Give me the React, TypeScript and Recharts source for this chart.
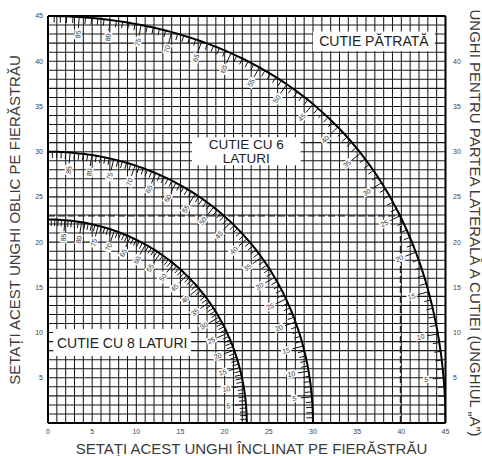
import React from 'react';
import {
  ComposedChart,
  Scatter,
  XAxis,
  YAxis,
  CartesianGrid,
  ReferenceArea,
  ReferenceLine,
} from 'recharts';

// Side angle "A" of the box, one mark per degree
const ANGLES = [
  0, 1, 2, 3, 4, 5, 6, 7, 8, 9, 10, 11, 12, 13, 14, 15, 16, 17, 18, 19,
  20, 21, 22, 23, 24, 25, 26, 27, 28, 29, 30, 31, 32, 33, 34, 35, 36, 37, 38, 39,
  40, 41, 42, 43, 44, 45, 46, 47, 48, 49, 50, 51, 52, 53, 54, 55, 56, 57, 58, 59,
  60, 61, 62, 63, 64, 65, 66, 67, 68, 69, 70, 71, 72, 73, 74, 75, 76, 77, 78, 79,
  80, 81, 82, 83, 84, 85, 86, 87, 88, 89, 90,
];

// Square box (4 sides): bevel (x) and miter (y) for each angle
const SQUARE_BEVEL = [
  45, 44.99, 44.97, 44.92, 44.86, 44.78, 44.69, 44.58, 44.45, 44.3,
  44.14, 43.96, 43.76, 43.55, 43.32, 43.08, 42.82, 42.55, 42.26, 41.96,
  41.64, 41.31, 40.97, 40.61, 40.24, 39.86, 39.46, 39.05, 38.64, 38.2,
  37.76, 37.31, 36.85, 36.37, 35.89, 35.4, 34.89, 34.38, 33.86, 33.34,
  32.8, 32.25, 31.7, 31.14, 30.58, 30.0, 29.42, 28.83, 28.24, 27.64,
  27.03, 26.42, 25.81, 25.19, 24.56, 23.93, 23.29, 22.65, 22.01, 21.36,
  20.71, 20.05, 19.39, 18.73, 18.06, 17.39, 16.72, 16.04, 15.36, 14.68,
  14.0, 13.31, 12.62, 11.93, 11.24, 10.54, 9.85, 9.15, 8.45, 7.75,
  7.05, 6.35, 5.65, 4.94, 4.24, 3.53, 2.83, 2.12, 1.41, 0.71, 0,
];
const SQUARE_MITER = [
  0, 1.0, 2.0, 2.99, 3.99, 4.98, 5.97, 6.95, 7.92, 8.89,
  9.85, 10.8, 11.75, 12.68, 13.6, 14.51, 15.42, 16.3, 17.18, 18.04,
  18.88, 19.71, 20.53, 21.34, 22.13, 22.91, 23.67, 24.42, 25.15, 25.86,
  26.56, 27.25, 27.92, 28.57, 29.21, 29.84, 30.44, 31.04, 31.62, 32.18,
  32.73, 33.26, 33.79, 34.29, 34.78, 35.26, 35.73, 36.18, 36.61, 37.04,
  37.45, 37.85, 38.24, 38.61, 38.97, 39.32, 39.66, 39.99, 40.3, 40.6,
  40.89, 41.17, 41.44, 41.7, 41.95, 42.18, 42.41, 42.63, 42.83, 43.03,
  43.22, 43.39, 43.56, 43.72, 43.87, 44.01, 44.13, 44.25, 44.36, 44.46,
  44.56, 44.64, 44.72, 44.78, 44.84, 44.89, 44.93, 44.96, 44.98, 45.0, 45,
];

// Six-sided box
const HEX_BEVEL = [
  30, 29.99, 29.98, 29.95, 29.92, 29.87, 29.82, 29.75, 29.68, 29.59,
  29.5, 29.4, 29.28, 29.16, 29.02, 28.88, 28.73, 28.57, 28.4, 28.21,
  28.02, 27.83, 27.62, 27.4, 27.18, 26.95, 26.71, 26.46, 26.2, 25.93,
  25.66, 25.38, 25.09, 24.79, 24.49, 24.18, 23.86, 23.54, 23.2, 22.87,
  22.52, 22.17, 21.81, 21.45, 21.08, 20.71, 20.32, 19.94, 19.55, 19.15,
  18.75, 18.34, 17.93, 17.51, 17.09, 16.67, 16.24, 15.8, 15.37, 14.92,
  14.48, 14.03, 13.58, 13.12, 12.66, 12.2, 11.73, 11.27, 10.8, 10.32,
  9.85, 9.37, 8.89, 8.41, 7.92, 7.44, 6.95, 6.46, 5.97, 5.47,
  4.98, 4.49, 3.99, 3.49, 3.0, 2.5, 2.0, 1.5, 1.0, 0.5, 0,
];
const HEX_MITER = [
  0, 0.58, 1.15, 1.73, 2.31, 2.88, 3.45, 4.02, 4.59, 5.16,
  5.73, 6.29, 6.85, 7.4, 7.95, 8.5, 9.04, 9.58, 10.12, 10.64,
  11.17, 11.69, 12.2, 12.71, 13.21, 13.71, 14.2, 14.69, 15.16, 15.64,
  16.1, 16.56, 17.01, 17.45, 17.89, 18.32, 18.74, 19.16, 19.57, 19.97,
  20.36, 20.74, 21.12, 21.49, 21.85, 22.21, 22.55, 22.89, 23.22, 23.54,
  23.86, 24.16, 24.46, 24.75, 25.04, 25.31, 25.58, 25.84, 26.09, 26.33,
  26.56, 26.79, 27.01, 27.22, 27.42, 27.62, 27.81, 27.99, 28.16, 28.32,
  28.48, 28.63, 28.77, 28.9, 29.03, 29.15, 29.26, 29.36, 29.45, 29.54,
  29.62, 29.69, 29.76, 29.81, 29.86, 29.9, 29.94, 29.97, 29.98, 30.0, 30,
];

// Eight-sided box
const OCT_BEVEL = [
  22.5, 22.5, 22.49, 22.47, 22.44, 22.41, 22.37, 22.32, 22.27, 22.21,
  22.14, 22.06, 21.98, 21.89, 21.8, 21.69, 21.58, 21.47, 21.34, 21.21,
  21.08, 20.93, 20.78, 20.63, 20.46, 20.29, 20.12, 19.94, 19.75, 19.56,
  19.36, 19.15, 18.94, 18.72, 18.5, 18.27, 18.04, 17.8, 17.55, 17.3,
  17.05, 16.79, 16.52, 16.25, 15.98, 15.7, 15.42, 15.13, 14.84, 14.54,
  14.24, 13.94, 13.63, 13.32, 13.0, 12.68, 12.36, 12.03, 11.7, 11.37,
  11.03, 10.69, 10.35, 10.0, 9.66, 9.31, 8.95, 8.6, 8.24, 7.88,
  7.52, 7.16, 6.79, 6.42, 6.05, 5.68, 5.31, 4.94, 4.56, 4.19,
  3.81, 3.43, 3.05, 2.67, 2.29, 1.91, 1.53, 1.15, 0.77, 0.38, 0,
];
const OCT_MITER = [
  0, 0.41, 0.83, 1.24, 1.66, 2.07, 2.48, 2.89, 3.3, 3.71,
  4.11, 4.52, 4.92, 5.32, 5.72, 6.12, 6.51, 6.9, 7.29, 7.68,
  8.06, 8.44, 8.82, 9.19, 9.56, 9.93, 10.29, 10.65, 11.0, 11.35,
  11.7, 12.04, 12.38, 12.71, 13.04, 13.36, 13.68, 14.0, 14.31, 14.61,
  14.91, 15.2, 15.49, 15.77, 16.05, 16.32, 16.59, 16.85, 17.11, 17.36,
  17.6, 17.84, 18.08, 18.3, 18.52, 18.74, 18.95, 19.16, 19.35, 19.55,
  19.73, 19.91, 20.09, 20.26, 20.42, 20.57, 20.73, 20.87, 21.01, 21.14,
  21.27, 21.39, 21.5, 21.61, 21.71, 21.81, 21.9, 21.98, 22.06, 22.13,
  22.19, 22.25, 22.3, 22.35, 22.39, 22.42, 22.45, 22.47, 22.49, 22.5, 22.5,
];

const AXIS_TICKS = [0, 5, 10, 15, 20, 25, 30, 35, 40, 45];
const LEFT_TICKS = [5, 10, 15, 20, 25, 30, 35, 40, 45];
const RIGHT_TICKS = [5, 10, 15, 20, 25, 30, 35, 40];
const GRID_VALUES = [
  0, 1, 2, 3, 4, 5, 6, 7, 8, 9, 10, 11, 12, 13, 14, 15, 16, 17, 18, 19, 20, 21, 22,
  23, 24, 25, 26, 27, 28, 29, 30, 31, 32, 33, 34, 35, 36, 37, 38, 39, 40, 41, 42, 43, 44, 45,
];

// Worked example (dashed lines)
const EXAMPLE_BEVEL = 39.9;
const EXAMPLE_MITER = 22.9;

// Label boxes
const BOX_SQUARE = { x1: 30, x2: 43.8, y1: 41.1, y2: 43.3, lines: ['CUTIE PĂTRATĂ'] };
const BOX_HEX = { x1: 16.3, x2: 28.6, y1: 28.5, y2: 31.6, lines: ['CUTIE CU 6', 'LATURI'] };
const BOX_OCT = { x1: 0.6, x2: 16.2, y1: 7.4, y2: 10.4, lines: ['CUTIE CU 8 LATURI'] };

const X_TITLE = 'SETAȚI ACEST UNGHI ÎNCLINAT PE FIERĂSTRĂU';
const Y_TITLE = 'SETAȚI ACEST UNGHI OBLIC PE FIERĂSTRĂU';
const R_TITLE = 'UNGHI PENTRU PARTEA LATERALĂ A CUTIEI (UNGHIUL „A”)';

// Layout
const W = 482;
const H = 456;
const MARGIN = { top: 6, right: 16.5, bottom: 21, left: 28 };
const TOP_AXIS_H = 10;
const BOTTOM_AXIS_H = 12;
const LEFT_AXIS_W = 20;
const RIGHT_AXIS_W = 20;
const PLOT_W = W - MARGIN.left - MARGIN.right - LEFT_AXIS_W - RIGHT_AXIS_W;
const PLOT_H = H - MARGIN.top - MARGIN.bottom - TOP_AXIS_H - BOTTOM_AXIS_H;
const SX = PLOT_W / 45;
const SY = PLOT_H / 45;

function buildArc(bevel: number[], miter: number[]) {
  return ANGLES.map((a, i) => {
    const p = Math.max(i - 1, 0);
    const n = Math.min(i + 1, ANGLES.length - 1);
    return { a, x: bevel[i], y: miter[i], dx: bevel[n] - bevel[p], dy: miter[n] - miter[p] };
  });
}

const squareArc = buildArc(SQUARE_BEVEL, SQUARE_MITER);
const hexArc = buildArc(HEX_BEVEL, HEX_MITER);
const octArc = buildArc(OCT_BEVEL, OCT_MITER);

const ArcMark = (props: any) => {
  const { cx, cy, payload } = props;
  if (cx == null || cy == null || !payload) return <g />;
  const a = payload.a;
  if (a <= 0 || a >= 90) return <g />;
  const tx = payload.dx * SX;
  const ty = -payload.dy * SY;
  const len = Math.hypot(tx, ty) || 1;
  const nx = ty / len;
  const ny = -tx / len;
  const major = a % 5 === 0;
  const L = major ? 11 : 6.5;
  const lx = cx + nx * 17.5;
  const ly = cy + ny * 17.5;
  const rot = (Math.atan2(-ny, -nx) * 180) / Math.PI;
  const txt = String(a);
  const bw = txt.length * 4 + 2;
  return (
    <g>
      <line x1={cx} y1={cy} x2={cx + nx * L} y2={cy + ny * L} stroke="#111" strokeWidth={1} />
      {major && (
        <g transform={`translate(${lx},${ly}) rotate(${rot})`}>
          <rect x={-bw / 2} y={-3.8} width={bw} height={7.6} fill="#fff" stroke="none" />
          <text x={0} y={2.5} textAnchor="middle" fontSize={7} fill="#333" stroke="none">
            {txt}
          </text>
        </g>
      )}
    </g>
  );
};

const boxLabel = (lines: string[]) => (p: any) => {
  const vb = p.viewBox || {};
  const cx = vb.x + vb.width / 2;
  const cy = vb.y + vb.height / 2;
  if (lines.length === 1) {
    return (
      <text x={cx} y={cy + 5} textAnchor="middle" fontSize={14} fill="#222" stroke="none">
        {lines[0]}
      </text>
    );
  }
  return (
    <g>
      <text x={cx} y={cy - 2.5} textAnchor="middle" fontSize={13.5} fill="#222" stroke="none">
        {lines[0]}
      </text>
      <text x={cx} y={cy + 12} textAnchor="middle" fontSize={13.5} fill="#222" stroke="none">
        {lines[1]}
      </text>
    </g>
  );
};

const tickStyle = { fontSize: 7, fill: '#444' };
const axisLineStyle = { stroke: '#000', strokeWidth: 2 };

const titleBase: React.CSSProperties = {
  position: 'absolute',
  fontSize: 15,
  lineHeight: '15px',
  height: 15,
  color: '#3a3a3a',
  whiteSpace: 'nowrap',
  transformOrigin: 'center center',
};

export default function App() {
  return (
    <div
      style={{
        position: 'absolute',
        left: 0,
        top: 0,
        width: W,
        height: H,
        overflow: 'hidden',
        background: '#fff',
        fontFamily: '"Liberation Sans", Arial, Helvetica, sans-serif',
      }}
    >
      <ComposedChart width={W} height={H} margin={MARGIN}>
        <CartesianGrid
          stroke="#1a1a1a"
          strokeWidth={1.05}
          horizontalValues={GRID_VALUES}
          verticalValues={GRID_VALUES}
        />
        <XAxis
          xAxisId={0}
          dataKey="x"
          type="number"
          domain={[0, 45]}
          ticks={AXIS_TICKS}
          interval={0}
          height={BOTTOM_AXIS_H}
          tickSize={0}
          tickMargin={6}
          tickLine={false}
          axisLine={axisLineStyle}
          tick={tickStyle}
          allowDataOverflow
        />
        <XAxis
          xAxisId="top"
          orientation="top"
          type="number"
          domain={[0, 45]}
          ticks={AXIS_TICKS}
          interval={0}
          height={TOP_AXIS_H}
          tickSize={0}
          tickMargin={3}
          tickLine={false}
          axisLine={axisLineStyle}
          tick={tickStyle}
          allowDataOverflow
        />
        <YAxis
          yAxisId={0}
          dataKey="y"
          type="number"
          domain={[0, 45]}
          ticks={LEFT_TICKS}
          interval={0}
          width={LEFT_AXIS_W}
          tickSize={0}
          tickMargin={5}
          tickLine={false}
          axisLine={axisLineStyle}
          tick={tickStyle}
          allowDataOverflow
        />
        <YAxis
          yAxisId="right"
          orientation="right"
          type="number"
          domain={[0, 45]}
          ticks={RIGHT_TICKS}
          interval={0}
          width={RIGHT_AXIS_W}
          tickSize={0}
          tickMargin={7.5}
          tickLine={false}
          axisLine={axisLineStyle}
          tick={tickStyle}
          allowDataOverflow
        />

        {[BOX_SQUARE, BOX_HEX, BOX_OCT].map((b, i) => (
          <ReferenceArea
            key={`box-${i}`}
            x1={b.x1}
            x2={b.x2}
            y1={b.y1}
            y2={b.y2}
            fill="#fff"
            fillOpacity={1}
            stroke="none"
            ifOverflow="visible"
            label={boxLabel(b.lines)}
          />
        ))}

        <ReferenceLine
          segment={[
            { x: 0, y: EXAMPLE_MITER },
            { x: EXAMPLE_BEVEL, y: EXAMPLE_MITER },
          ]}
          stroke="#222"
          strokeWidth={1.3}
          strokeDasharray="7 3"
          ifOverflow="visible"
        />
        <ReferenceLine
          segment={[
            { x: EXAMPLE_BEVEL, y: 0 },
            { x: EXAMPLE_BEVEL, y: EXAMPLE_MITER },
          ]}
          stroke="#222"
          strokeWidth={1.3}
          strokeDasharray="7 3"
          ifOverflow="visible"
        />

        <Scatter
          data={squareArc}
          line={{ stroke: '#000', strokeWidth: 2 }}
          lineType="joint"
          shape={ArcMark}
          isAnimationActive={false}
        />
        <Scatter
          data={hexArc}
          line={{ stroke: '#000', strokeWidth: 2 }}
          lineType="joint"
          shape={ArcMark}
          isAnimationActive={false}
        />
        <Scatter
          data={octArc}
          line={{ stroke: '#000', strokeWidth: 2 }}
          lineType="joint"
          shape={ArcMark}
          isAnimationActive={false}
        />
      </ComposedChart>

      {/* Axis titles */}
      <div
        style={{
          ...titleBase,
          left: 251.5,
          top: 448,
          transform: 'translate(-50%, -50%)',
        }}
      >
        {X_TITLE}
      </div>
      <div
        style={{
          ...titleBase,
          left: 14.2,
          top: 220,
          transform: 'translate(-50%, -50%) rotate(-90deg)',
        }}
      >
        {Y_TITLE}
      </div>
      <div
        style={{
          ...titleBase,
          left: 474.6,
          top: 222.5,
          transform: 'translate(-50%, -50%) rotate(90deg)',
        }}
      >
        {R_TITLE}
      </div>
    </div>
  );
}
